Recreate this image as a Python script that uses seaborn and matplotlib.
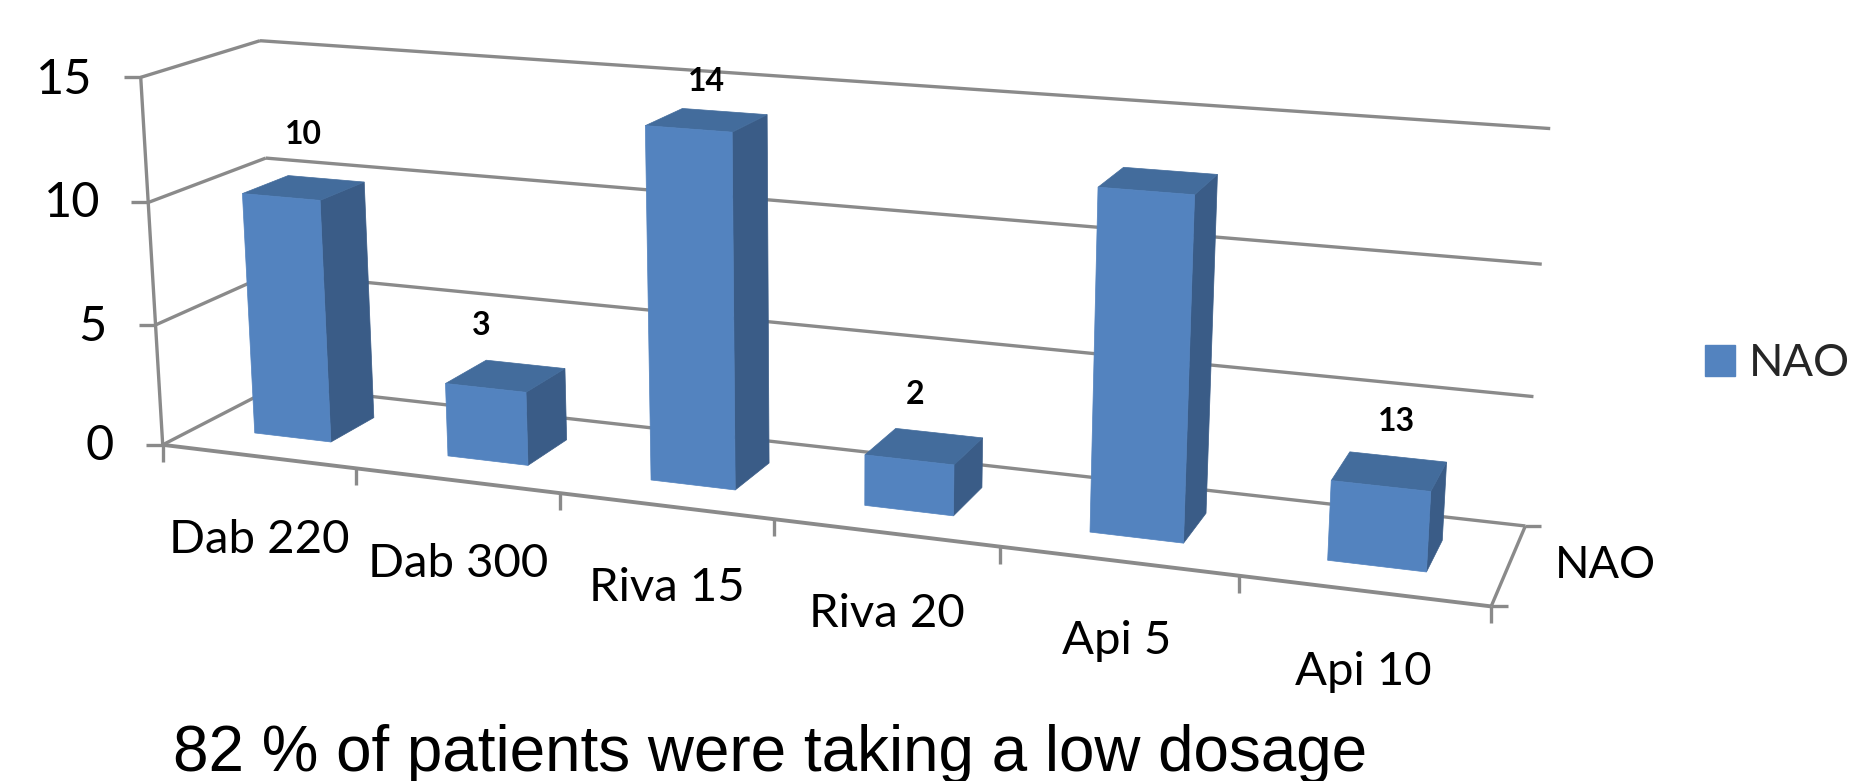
import numpy as np
import matplotlib
matplotlib.use("Agg")
import matplotlib.pyplot as plt
from matplotlib.patches import Polygon, Patch
import seaborn as sns

# ---- data ----
CATEGORIES = ["Dab 220", "Dab 300", "Riva 15", "Riva 20", "Api 5", "Api 10"]
VALUES = [10, 3, 14, 2, 13, 3]
VALUE_LABELS = ["10", "3", "14", "2", "", "13"]
YTICKS = [0, 5, 10, 15]
SERIES = "NAO"
CAPTION = "82 % of patients were taking a low dosage"

# ---- styling / layout ----
W, H = 1854, 781
GREY = "#8a8a8a"
FRONT, SIDE, TOP = "#5383BF", "#3A5C87", "#436C9C"
BAR_WIDTH = 0.4
DEPTH = (0.30, 0.70)
LABEL_OFFSETS = [(0, -53), (-25, -50), (0, -39), (-9, -52), (0, 0), (7, -50)]
CAT_LABEL_POS = [(259, 540), (458, 564), (667, 588), (887, 614), (1117, 641), (1363, 672)]
YLAB_POS = [(100, 446), (92, 327), (72, 203), (64, 80)]

# calibration of the pseudo-3D camera: (u, depth, value) -> pixel
CAL = [(0, 0, 15, 141, 77), (0, 0, 10, 149.5, 202), (0, 0, 5, 156, 325), (0, 0, 0, 162, 444),
       (0, 1, 15, 259, 41), (0, 1, 10, 265, 158), (0, 1, 5, 272, 273), (0, 1, 0, 278, 386),
       (1, 1, 15, 1550, 129), (1, 1, 10, 1542, 264), (1, 1, 5, 1534, 397), (1, 1, 0, 1525, 525),
       (1, 0, 0, 1491, 605), (1/6, 0, 0, 355, 468), (2/6, 0, 0, 559.5, 494),
       (3/6, 0, 0, 774, 521), (4/6, 0, 0, 1000, 547), (5/6, 0, 0, 1239, 576)]
A, b = [], []
for u, d, v, px, py in CAL:
    A.append([u, d, v, 1, 0, 0, 0, 0, -px*u, -px*d, -px*v]); b.append(px)
    A.append([0, 0, 0, 0, u, d, v, 1, -py*u, -py*d, -py*v]); b.append(py)
M = np.append(np.linalg.lstsq(np.array(A, float), np.array(b, float), rcond=None)[0], 1).reshape(3, 4)

def proj(u, d, v):
    p = M @ np.array([u, d, v, 1.0])
    return p[0]/p[2], p[1]/p[2]

sns.set_theme(style="white")
plt.rcParams["font.family"] = ["Lato", "DejaVu Sans"]
fig = plt.figure(figsize=(W/100, H/100), dpi=100, facecolor="white")

# seaborn computes the bars; they are then projected through the camera
helper = fig.add_axes([0, 0, 0.01, 0.01])
sns.barplot(x=CATEGORIES, y=VALUES, width=BAR_WIDTH, ax=helper)
rects = [(r.get_x(), r.get_width(), r.get_height()) for r in helper.patches]
helper.remove()

ax = fig.add_axes([0, 0, 1, 1])
ax.set_xlim(0, W); ax.set_ylim(H, 0); ax.axis("off")

def seg(p, q, lw=2.4, z=1):
    ax.plot([p[0], q[0]], [p[1], q[1]], color=GREY, lw=lw, solid_capstyle="butt", zorder=z)

# walls & floor
for v in YTICKS:
    a, c, e = proj(0, 0, v), proj(0, 1, v), proj(1, 1, v)
    seg(a, c); seg(c, e)
    seg((a[0]-17, a[1]), a)
seg(proj(0, 0, 0), proj(0, 0, 15))
seg(proj(0, 0, 0), (proj(0, 0, 0)[0], proj(0, 0, 0)[1]+17))
fl, fr, br = proj(0, 0, 0), proj(1, 0, 0), proj(1, 1, 0)
seg(fl, fr, lw=2.8); seg(fr, br)
seg(fr, (fr[0]+17, fr[1])); seg(br, (br[0]+16, br[1]))
for k in range(1, 7):
    t = proj(k/6, 0, 0)
    seg(t, (t[0], t[1]+17))

# bars
d0, d1 = DEPTH
n = len(CATEGORIES)
for (x, w, h), lab, off in zip(rects, VALUE_LABELS, LABEL_OFFSETS):
    u0, u1 = (x+0.5)/n, (x+w+0.5)/n
    front = [proj(u0, d0, 0), proj(u1, d0, 0), proj(u1, d0, h), proj(u0, d0, h)]
    side = [proj(u1, d0, 0), proj(u1, d1, 0), proj(u1, d1, h), proj(u1, d0, h)]
    top = [proj(u0, d0, h), proj(u1, d0, h), proj(u1, d1, h), proj(u0, d1, h)]
    for poly, col in ((side, SIDE), (top, TOP), (front, FRONT)):
        ax.add_patch(Polygon(poly, closed=True, facecolor=col, edgecolor=col, lw=0.5, zorder=3))
    if lab:
        cx, cy = proj((u0+u1)/2, (d0+d1)/2, h)
        ax.text(cx+off[0], cy+off[1], lab, ha="center", va="center", fontsize=23,
                fontweight="bold", color="black", zorder=4)

# axis text
for (px, py), v in zip(YLAB_POS, YTICKS):
    ax.text(px, py, str(v), ha="center", va="center", fontsize=35, color="black")
for (px, py), c in zip(CAT_LABEL_POS, CATEGORIES):
    ax.text(px, py, c, ha="center", va="center", fontsize=34, color="black")
ax.text(1605, 565, SERIES, ha="center", va="center", fontsize=32.5, color="black")

# legend
ax.legend(handles=[Patch(facecolor=FRONT, edgecolor=FRONT, label=SERIES)],
          loc="center left", bbox_to_anchor=(1705/W, 1-364/H), frameon=False, fontsize=32.5,
          handlelength=0.66, handleheight=0.66, handletextpad=0.32, borderpad=0, borderaxespad=0)

ax.text(173, 771, CAPTION, ha="left", va="baseline", fontsize=45.9,
        family=["Liberation Sans", "DejaVu Sans"], color="black")

fig.savefig("out.png", dpi=100, facecolor="white")
